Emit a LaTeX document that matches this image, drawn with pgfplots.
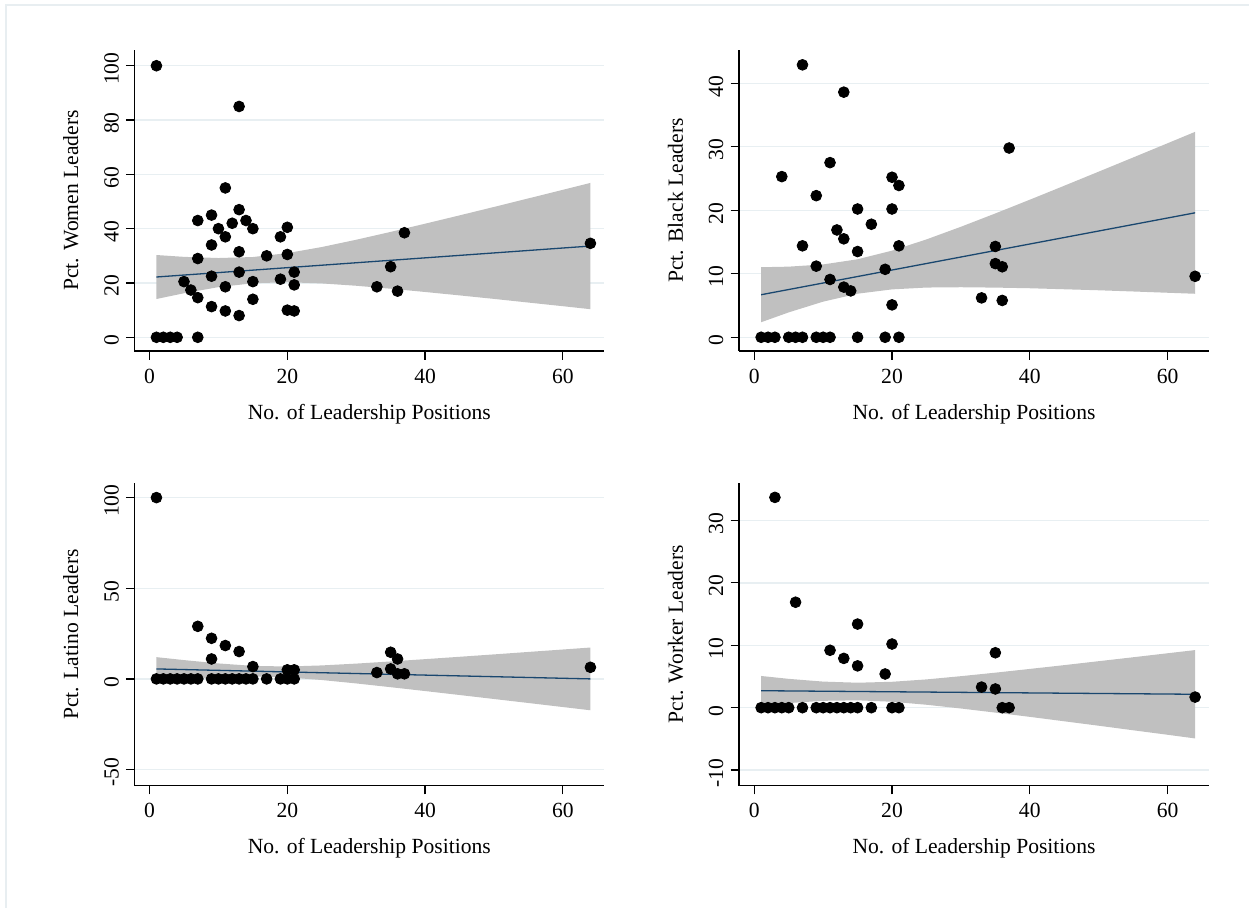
\documentclass[border=0pt]{standalone}
\usepackage{fontspec}
\setmainfont{Liberation Serif}
\usepackage{pgfplots}
\pgfplotsset{compat=1.18}
\definecolor{gridc}{RGB}{232,239,242}
\definecolor{bandc}{RGB}{192,192,192}
\definecolor{fitc}{RGB}{26,71,111}
\definecolor{framec}{RGB}{232,238,241}
\pgfplotsset{stata/.style={
  scale only axis,
  anchor=south west,
  axis x line*=bottom, axis y line*=left,
  axis line style={black, line width=0.7pt},
  tick align=outside, major tick length=4.3pt,
  tick style={black, line width=0.6pt},
  ymajorgrids, major grid style={gridc, line width=0.7pt},
  xmin=-2.2, xmax=66,
  xtick={0,20,40,60},
  width=234.9pt,
  font=\fontsize{10.8}{13}\selectfont,
  /pgf/number format/assume math mode=true,
  yticklabel style={rotate=90, anchor=south, xshift=-1.5pt},
  xticklabel style={yshift=-1pt},
  xlabel={No. of Leadership Positions},
  xlabel shift=3.5pt,
  ylabel shift=6pt,
  bandstyle/.style={fill=bandc, draw=none},
  fitstyle/.style={fitc, line width=0.65pt},
  dotstyle/.style={only marks, mark=*, mark size=2.7pt, mark options={fill=black, draw=black}},
}}
\begin{document}
\begin{tikzpicture}
\useasboundingbox (0,0) rectangle (624.5pt,454pt);
\draw[framec, line width=1pt] (3pt,0) -- (3pt,451.25pt) -- (624.5pt,451.25pt);

% Panel 1: women
\begin{axis}[stata, at={(67.2pt,278.5pt)}, height=150.5pt,
  ymin=-5.04, ymax=105.8, ytick={0,20,40,60,80,100},
  ylabel={Pct. Women Leaders}]
\addplot[bandstyle] coordinates {(1,30.30) (5,29.62) (10,29.19) (15,29.56) (20,31.00) (25,33.24) (30,35.92) (35,38.81) (40,41.83) (45,44.89) (50,48.00) (55,51.15) (60,54.31) (64,56.85)
 (64,10.35) (60,11.45) (55,12.79) (50,14.14) (45,15.43) (40,16.69) (35,17.89) (30,18.98) (25,19.84) (20,20.28) (15,19.90) (10,18.47) (5,16.22) (1,14.10)};
\addplot[fitstyle] coordinates {(1,22.2) (64,33.6)};
\addplot[dotstyle] table {
x y
1 100
13 85
11 55
7 43
9 45
10 40
12 42
13 47
14 43
15 40
11 37
9 34
13 31.5
17 30
19 37
20 40.5
20 30.5
7 29
21 24
9 22.5
13 24
19 21.4
5 20.5
15 20.5
21 19.3
11 18.6
6 17.4
7 14.6
15 14
9 11.3
11 9.7
13 8
20 10
21 9.7
1 0
2 0
3 0
4 0
7 0
33 18.6
35 26
36 17
37 38.5
64 34.6
};
\end{axis}

% Panel 2: black
\begin{axis}[stata, at={(369.55pt,278.5pt)}, height=150.5pt,
  ymin=-2.16, ymax=45.24, ytick={0,10,20,30,40},
  ylabel={Pct. Black Leaders}]
\addplot[bandstyle] coordinates {(1,11.03) (5,11.12) (10,11.47) (15,12.28) (20,13.64) (25,15.41) (30,17.40) (35,19.50) (40,21.66) (45,23.86) (50,26.08) (55,28.31) (60,30.55) (64,32.35)
 (64,6.85) (60,7.01) (55,7.21) (50,7.40) (45,7.56) (40,7.72) (35,7.82) (30,7.88) (25,7.83) (20,7.54) (15,6.86) (10,5.61) (5,3.92) (1,2.37)};
\addplot[fitstyle] coordinates {(1,6.7) (64,19.6)};
\addplot[dotstyle] table {
x y
7 42.9
13 38.6
37 29.8
11 27.5
4 25.3
20 25.2
21 23.9
9 22.3
15 20.2
20 20.2
17 17.8
12 16.9
13 15.5
7 14.4
21 14.4
15 13.5
35 14.3
9 11.2
19 10.7
35 11.6
36 11.1
11 9.1
13 7.9
14 7.3
33 6.2
36 5.8
20 5.1
64 9.6
1 0
2 0
3 0
5 0
6 0
7 0
9 0
10 0
11 0
15 0
19 0
21 0
};
\end{axis}

% Panel 3: latino
\begin{axis}[stata, at={(67.2pt,61.15pt)}, height=151.2pt,
  ymin=-58.9, ymax=107.9, ytick={-50,0,50,100},
  ylabel={Pct. Latino Leaders}]
\addplot[bandstyle] coordinates {(1,12.0) (5,10.38) (10,8.53) (15,7.19) (20,6.84) (25,7.43) (30,8.44) (35,9.63) (40,10.90) (45,12.20) (50,13.52) (55,14.87) (60,16.22) (64,17.30)
 (64,-17.30) (60,-15.52) (55,-13.29) (50,-11.08) (45,-8.88) (40,-6.70) (35,-4.57) (30,-2.50) (25,-0.61) (20,0.84) (15,1.37) (10,0.89) (5,-0.08) (1,-1.0)};
\addplot[fitstyle] coordinates {(1,5.5) (64,0.0)};
\addplot[dotstyle] table {
x y
1 100
7 29
9 22.4
11 18.4
13 15.1
9 11
15 6.8
20 5
21 5
35 14.7
36 11
35 5.5
36 2.8
37 2.8
33 3.5
64 6.4
1 0
2 0
3 0
4 0
5 0
6 0
7 0
9 0
10 0
11 0
12 0
13 0
14 0
15 0
17 0
19 0
20 0
21 0
};
\end{axis}

% Panel 4: worker
\begin{axis}[stata, at={(369.55pt,61.15pt)}, height=151.2pt,
  ymin=-12.5, ymax=35.96, ytick={-10,0,10,20,30},
  ylabel={Pct. Worker Leaders}]
\addplot[bandstyle] coordinates {(1,5.08) (5,4.62) (10,4.18) (15,4.00) (20,4.15) (25,4.53) (30,5.05) (35,5.61) (40,6.21) (45,6.82) (50,7.45) (55,8.08) (60,8.72) (64,9.23)
 (64,-4.93) (60,-4.34) (55,-3.62) (50,-2.89) (45,-2.18) (40,-1.47) (35,-0.79) (30,-0.13) (25,0.47) (20,0.95) (15,1.18) (10,1.10) (5,0.74) (1,0.36)};
\addplot[fitstyle] coordinates {(1,2.72) (64,2.15)};
\addplot[dotstyle] table {
x y
3 33.7
6 16.9
15 13.4
20 10.2
11 9.2
13 7.9
15 6.7
19 5.4
35 8.8
33 3.3
35 3.0
64 1.7
1 0
2 0
3 0
4 0
5 0
7 0
9 0
10 0
11 0
12 0
13 0
14 0
15 0
17 0
20 0
21 0
36 0
37 0
};
\end{axis}
\end{tikzpicture}
\end{document}
